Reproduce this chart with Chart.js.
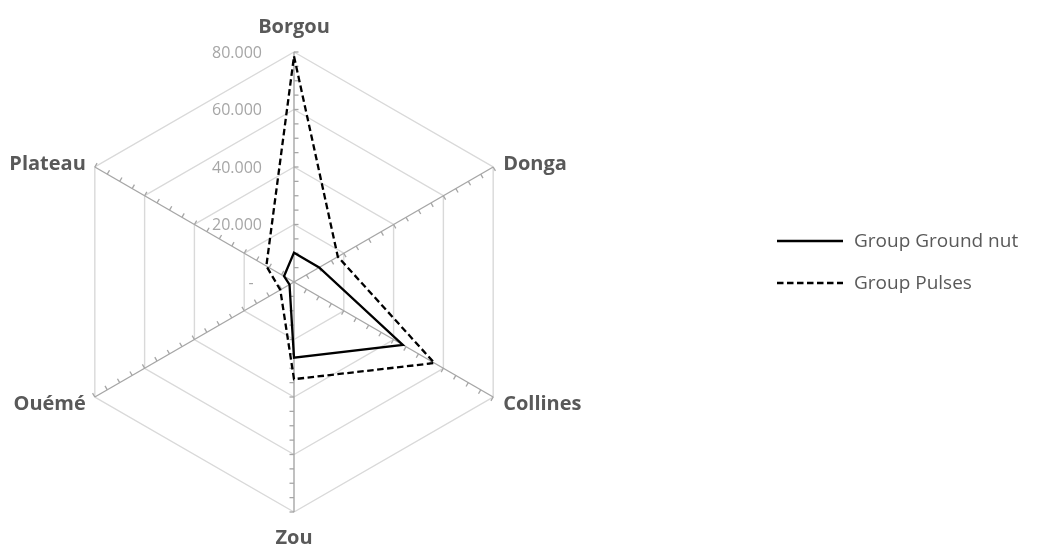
<!DOCTYPE html>
<html>
<head>
<meta charset="utf-8">
<title>Group Ground nut / Group Pulses by department</title>
<script src="https://cdn.jsdelivr.net/npm/chart.js@4.4.1/dist/chart.umd.min.js"></script>
<style>
  html, body { margin: 0; padding: 0; background: #ffffff; }
  #wrap { position: relative; width: 1037px; height: 547px; }
  canvas { display: block; }
</style>
</head>
<body>
<div id="wrap"><canvas id="chart" width="1037" height="547"></canvas></div>
<script>
// Departments (axes, clockwise from the top)
const categories = ['Borgou', 'Donga', 'Collines', 'Zou', 'Ouémé', 'Plateau'];

// Series values per department
const groundNut = [10.2, 10.1, 43.7, 26.3, 1.8, 4.0];
const pulses = [78.5, 17.6, 56.4, 33.8, 5.5, 11.1];

// Radial axis ticks and their printed labels
const tickValues = [0, 20, 40, 60, 80];
const tickLabels = ['-', '20.000', '40.000', '60.000', '80.000'];
const minorTickStep = 5;

const LABEL_FONT = '"Open Sans", "DejaVu Sans", sans-serif';
const AXIS_GREY = '#a6a6a6';
const GRID_GREY = '#d9d9d9';
const TEXT_GREY = '#595959';

// Tick marks, tick labels, department names and the legend
const radarDecor = {
  id: 'radarDecor',
  beforeDatasetsDraw(chart) {
    const scale = chart.scales.r;
    const ctx = chart.ctx;
    const n = chart.data.labels.length;
    ctx.save();
    // small tick marks on every spoke, on its clockwise side
    ctx.strokeStyle = AXIS_GREY;
    ctx.lineWidth = 1.3;
    for (let i = 0; i < n; i++) {
      for (let v = minorTickStep; v <= scale.max; v += minorTickStep) {
        const p = scale.getPointPosition(i, scale.getDistanceFromCenterForValue(v));
        const a = p.angle + Math.PI / 2;
        ctx.beginPath();
        ctx.moveTo(p.x, p.y);
        ctx.lineTo(p.x + Math.cos(a) * 4.5, p.y + Math.sin(a) * 4.5);
        ctx.stroke();
      }
    }
    // value labels beside the vertical spoke
    ctx.fillStyle = AXIS_GREY;
    ctx.font = '16px ' + LABEL_FONT;
    ctx.textBaseline = 'middle';
    tickValues.forEach((v, k) => {
      const y = scale.yCenter - scale.getDistanceFromCenterForValue(v);
      if (v === 0) {
        ctx.textAlign = 'center';
        ctx.fillText(tickLabels[k], scale.xCenter - 43, y + 1);
      } else {
        ctx.textAlign = 'right';
        ctx.fillText(tickLabels[k], scale.xCenter - 32, y + 1);
      }
    });
    ctx.restore();
  },
  afterDraw(chart) {
    const scale = chart.scales.r;
    const ctx = chart.ctx;
    ctx.save();
    // department names at the ends of the spokes
    ctx.fillStyle = TEXT_GREY;
    ctx.font = 'bold 20px ' + LABEL_FONT;
    ctx.textBaseline = 'alphabetic';
    chart.data.labels.forEach((label, i) => {
      const end = scale.getPointPosition(i, scale.drawingArea);
      const c = Math.cos(end.angle);
      const s = Math.sin(end.angle);
      if (Math.abs(c) < 0.01) {
        ctx.textAlign = 'center';
        ctx.fillText(label, end.x, s < 0 ? end.y - 18.7 : end.y + 32.3);
      } else {
        ctx.textAlign = c > 0 ? 'left' : 'right';
        const x = end.x + (c > 0 ? 10 : -9);
        ctx.fillText(label, x, s < 0 ? end.y + 3 : end.y + 12.5);
      }
    });
    // legend
    const lx0 = 777, lx1 = 843, rowY = [241, 283];
    ctx.font = '19px ' + LABEL_FONT;
    ctx.textAlign = 'left';
    ctx.textBaseline = 'middle';
    chart.data.datasets.forEach((ds, k) => {
      const y = rowY[k];
      ctx.strokeStyle = ds.borderColor;
      ctx.lineWidth = ds.borderWidth;
      ctx.setLineDash(ds.borderDash || []);
      ctx.beginPath();
      ctx.moveTo(lx0, y);
      ctx.lineTo(lx1, y);
      ctx.stroke();
      ctx.setLineDash([]);
      ctx.fillStyle = TEXT_GREY;
      ctx.fillText(ds.label, 854, y + 1);
    });
    ctx.restore();
  }
};

new Chart(document.getElementById('chart'), {
  type: 'radar',
  data: {
    labels: categories,
    datasets: [
      {
        label: 'Group Ground nut',
        data: groundNut,
        borderColor: '#000000',
        borderWidth: 2.3,
        fill: false,
        pointRadius: 0,
        pointHoverRadius: 0,
        tension: 0
      },
      {
        label: 'Group Pulses',
        data: pulses,
        borderColor: '#000000',
        borderWidth: 2.3,
        borderDash: [6.5, 3.5],
        fill: false,
        pointRadius: 0,
        pointHoverRadius: 0,
        tension: 0
      }
    ]
  },
  options: {
    responsive: false,
    animation: false,
    devicePixelRatio: 1,
    layout: { padding: { left: 64, top: 52, right: 512, bottom: 35 } },
    plugins: {
      legend: { display: false },
      tooltip: { enabled: false }
    },
    scales: {
      r: {
        min: 0,
        max: 80,
        ticks: { display: false, stepSize: 20 },
        pointLabels: { display: false },
        grid: { color: GRID_GREY, lineWidth: 1.4 },
        angleLines: { color: AXIS_GREY, lineWidth: 1.4 }
      }
    }
  },
  plugins: [radarDecor]
});
</script>
</body>
</html>
